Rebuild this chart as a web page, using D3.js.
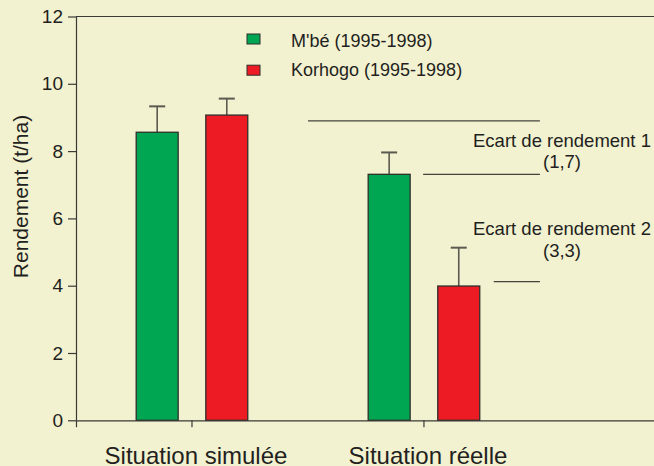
<!DOCTYPE html>
<html>
<head>
<meta charset="utf-8">
<script src="https://cdn.jsdelivr.net/npm/d3@7"></script>
<style>
  html, body { margin: 0; padding: 0; background: #F2F1D0; }
  svg { display: block; font-family: "Liberation Sans", Arial, Helvetica, sans-serif; }
</style>
</head>
<body>
<svg id="chart" width="654" height="466"></svg>
<script>
// ---- data ----
const categories = ["Situation simulée", "Situation réelle"];
const series = ["M'bé (1995-1998)", "Korhogo (1995-1998)"];
const mbeValues = [8.56, 7.31];
const korhogoValues = [9.07, 3.99];
const mbeErrors = [0.77, 0.65];
const korhogoErrors = [0.49, 1.14];
const yTicks = [0, 2, 4, 6, 8, 10, 12];
const yLabel = "Rendement (t/ha)";
const gapLevels = [8.9, 7.31, 4.12];
const gapLabels = ["Ecart de rendement 1", "(1,7)", "Ecart de rendement 2", "(3,3)"];

const colors = ["#00A651", "#ED1C24"];
const textColor = "#231F20";
const lineColor = "#3a3a36";

const W = 654, H = 466;
const mLeft = 76, mRight = 700, mTop = 16.5, mBottom = 420.3;

const svg = d3.select("#chart");
svg.append("rect").attr("width", W).attr("height", H).attr("fill", "#F2F1D0");

const y = d3.scaleLinear().domain([0, 12]).range([mBottom, mTop]);
const x = d3.scaleBand().domain(categories).range([mLeft, mRight])
  .paddingInner(0).paddingOuter(0.345).align(0);
const xs = d3.scaleBand().domain(series).range([0, x.bandwidth()])
  .paddingInner(0.397).paddingOuter(0.865);

const valuesBySeries = [mbeValues, korhogoValues];
const errorsBySeries = [mbeErrors, korhogoErrors];
const rows = [];
series.forEach((s, si) => {
  categories.forEach((c, ci) => {
    rows.push({ s, si, c, v: valuesBySeries[si][ci], e: errorsBySeries[si][ci] });
  });
});

// top frame line
svg.append("line")
  .attr("x1", mLeft).attr("x2", mRight)
  .attr("y1", y(12)).attr("y2", y(12))
  .attr("stroke", lineColor).attr("stroke-width", 1.2);

// error bars (behind bars)
const eg = svg.append("g").attr("stroke", "#5b5a50").attr("stroke-width", 1.6);
rows.forEach(d => {
  const cx = x(d.c) + xs(d.s) + xs.bandwidth() / 2;
  eg.append("line").attr("x1", cx).attr("x2", cx)
    .attr("y1", y(d.v)).attr("y2", y(d.v + d.e));
  eg.append("line").attr("x1", cx - 8).attr("x2", cx + 8)
    .attr("y1", y(d.v + d.e)).attr("y2", y(d.v + d.e)).attr("stroke-width", 2);
});

// bars
svg.append("g").selectAll("rect").data(rows).join("rect")
  .attr("x", d => x(d.c) + xs(d.s))
  .attr("y", d => y(d.v))
  .attr("width", xs.bandwidth())
  .attr("height", d => y(0) - y(d.v))
  .attr("fill", d => colors[d.si])
  .attr("stroke", "#2e2e2a")
  .attr("stroke-width", 1.3);

// y axis
const yAxis = svg.append("g").attr("transform", `translate(${mLeft},0)`)
  .call(d3.axisLeft(y).tickValues(yTicks).tickSize(8).tickPadding(5).tickSizeOuter(0));
yAxis.selectAll("path, line").attr("stroke", lineColor).attr("stroke-width", 1.2);
yAxis.selectAll("text").attr("font-size", 19).attr("fill", textColor)
  .attr("font-family", "Liberation Sans, Arial, sans-serif");

// x axis
const xAxis = svg.append("g").attr("transform", `translate(0,${y(0)})`)
  .call(d3.axisBottom(x).tickSize(7).tickSizeOuter(7).tickPadding(19.5));
xAxis.selectAll("path, line").attr("stroke", lineColor).attr("stroke-width", 1.2);
xAxis.selectAll("text").attr("font-size", 24).attr("fill", textColor).attr("dx", 4)
  .attr("font-family", "Liberation Sans, Arial, sans-serif");

// y label
svg.append("text")
  .attr("transform", `translate(28,196.5) rotate(-90)`)
  .attr("text-anchor", "middle")
  .attr("font-size", 21).attr("fill", textColor)
  .text(yLabel);

// legend
const lg = svg.append("g");
series.forEach((s, i) => {
  lg.append("rect").attr("x", 247).attr("y", 34 + i * 31.2)
    .attr("width", 13).attr("height", 10)
    .attr("fill", colors[i]).attr("stroke", "#2e2e2a").attr("stroke-width", 1);
  lg.append("text").attr("x", 291).attr("y", 46.5 + i * 29.5)
    .attr("font-size", 18).attr("fill", textColor).text(s);
});

// gap annotation lines
const cat2 = categories[1];
const gapStarts = [
  x(cat2),
  x(cat2) + xs(series[0]) + xs.bandwidth() + 13,
  x(cat2) + xs(series[1]) + xs.bandwidth() + 14
];
const gapEnd = x(cat2) + x.bandwidth();
svg.append("g").selectAll("line").data(gapLevels).join("line")
  .attr("x1", (d, i) => gapStarts[i]).attr("x2", gapEnd)
  .attr("y1", d => y(d)).attr("y2", d => y(d))
  .attr("stroke", "#45443c").attr("stroke-width", 1.3);

// gap labels
const gapY = [146.7, 168, 235, 256.7];
svg.append("g").selectAll("text").data(gapLabels).join("text")
  .attr("x", 562).attr("y", (d, i) => gapY[i])
  .attr("text-anchor", "middle")
  .attr("font-size", 18.5).attr("fill", textColor)
  .text(d => d);
</script>
</body>
</html>
